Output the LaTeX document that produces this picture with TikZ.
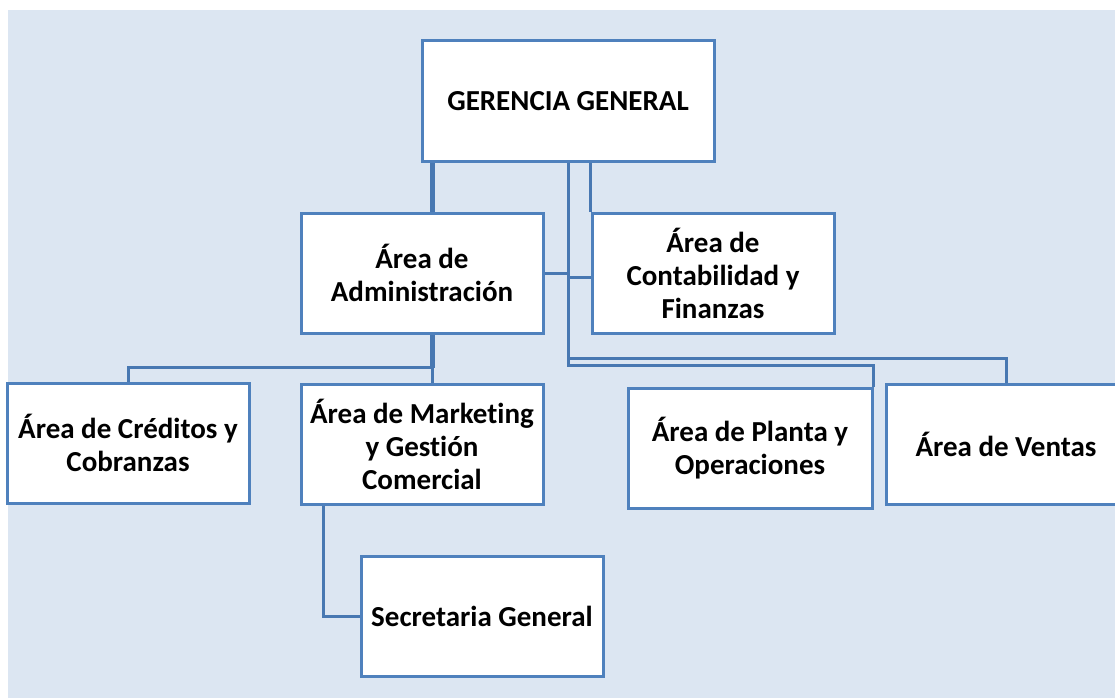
\documentclass[tikz,border=0pt]{standalone}
\usepackage{fontspec}
\setmainfont[Ligatures=NoCommon]{Carlito}
\definecolor{orgbg}{RGB}{220,230,242}
\definecolor{orgline}{RGB}{79,129,189}
\definecolor{orglink}{RGB}{72,120,178}

\begin{document}
\begin{tikzpicture}[x=1pt,y=-1pt,
  unit/.style={draw=orgline,line width=3pt,fill=white,align=center,inner sep=0pt,
    font=\fontsize{29}{33}\selectfont\bfseries,minimum width=242pt,minimum height=120pt},
  link/.style={draw=orglink,line width=3pt},
  trunk/.style={draw=orglink,line width=5pt}]
\path[use as bounding box,clip] (0,0) rectangle (1115,698);
\fill[orgbg] (8,10) rectangle (1115,698);
\node[unit,minimum width=292pt] (gg) at (568,101) {GERENCIA GENERAL};
\node[unit] (adm) at (422,273) {Área de\\Administración};
\node[unit] (cont) at (713,273) {Área de\\Contabilidad y\\Finanzas};
\node[unit] (cred) at (128,443) {Área de Créditos y\\Cobranzas};
\node[unit] (mkt) at (422,444) {Área de Marketing\\y Gestión\\Comercial};
\node[unit,minimum width=244pt] (plan) at (750,448) {Área de Planta y\\Operaciones};
\node[unit,minimum width=240pt] (vent) at (1006,444) {Área de Ventas};
\node[unit] (sec) at (482,616) {Secretaria General};
\draw[trunk] ([xshift=10pt]adm.north) -- ([xshift=10pt]adm.north |- gg.south);
\draw[link] (gg.south) |- ([yshift=24pt]vent.north) -- (vent.north);
\draw[link] (gg.south) |- ([yshift=21pt]plan.north east) -- (plan.north east);
\draw[link] (adm.east) -- (adm.east -| gg.south);
\draw[link] (cont.north west |- gg.south) -- (cont.north west);
\draw[link] ([yshift=-4pt]cont.west -| gg.south) -- ([yshift=-4pt]cont.west);
\coordinate (admbus) at ([xshift=10pt,yshift=-33pt]adm.south);
\draw[trunk] ([xshift=10pt]adm.south) -- (admbus);
\draw[link] (admbus) -| (cred.north);
\draw[link] (admbus) -- (admbus |- mkt.north);
\draw[link] ([xshift=24pt]mkt.south west) |- (sec.west);
\end{tikzpicture}
\end{document}
